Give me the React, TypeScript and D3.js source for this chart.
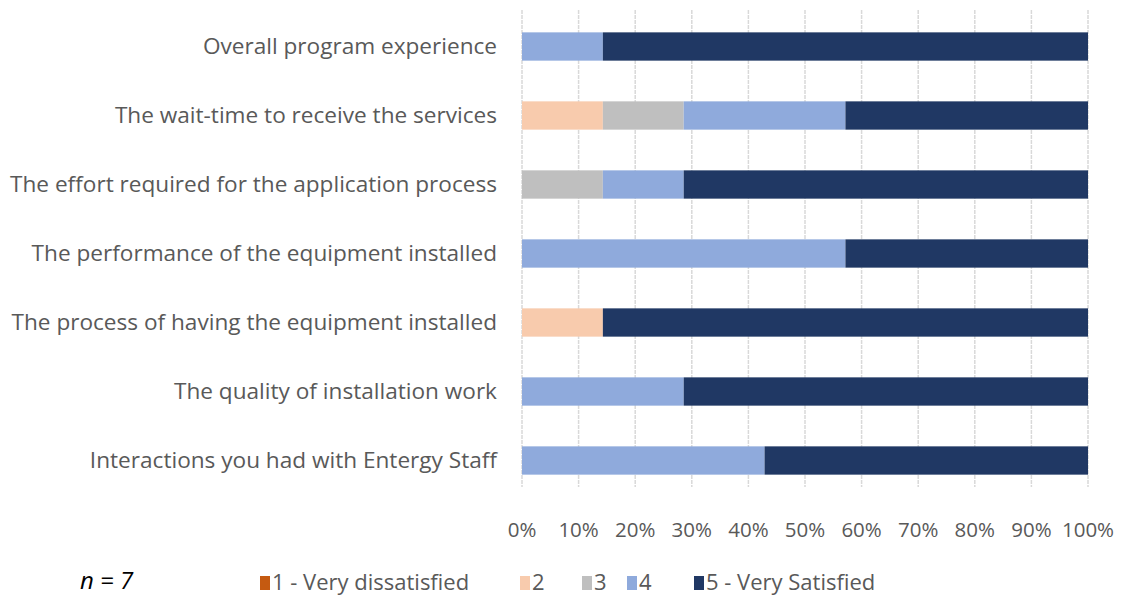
import * as d3 from 'd3';

const categories = [
  'Overall program experience',
  'The wait-time to receive the services',
  'The effort required for the application process',
  'The performance of the equipment installed',
  'The process of having the equipment installed',
  'The quality of installation work',
  'Interactions you had with Entergy Staff',
];

const seriesNames = ['1 - Very dissatisfied', '2', '3', '4', '5 - Very Satisfied'];
const seriesColors = ['#c55a11', '#f8cbad', '#bfbfbf', '#8faadc', '#203864'];

// counts out of n = 7 respondents, per category
const s1 = [0, 0, 0, 0, 0, 0, 0];
const s2 = [0, 1, 0, 0, 1, 0, 0];
const s3 = [0, 1, 1, 0, 0, 0, 0];
const s4 = [1, 2, 1, 4, 0, 2, 3];
const s5 = [6, 3, 5, 3, 6, 5, 4];
const respondents = 7;

const xTicks = [0, 0.1, 0.2, 0.3, 0.4, 0.5, 0.6, 0.7, 0.8, 0.9, 1];

const W = 1123;
const H = 597;
const margin = { left: 522, right: 35, top: 12, bottom: 102 };
const font = 'Open Sans, sans-serif';

export default function App() {
  const rows = categories.map((c, i) => ({
    cat: c,
    v: [s1[i], s2[i], s3[i], s4[i], s5[i]].map((d) => d / respondents),
  }));

  const x = d3.scaleLinear().domain([0, 1]).range([margin.left, W - margin.right]);
  const y = d3
    .scaleBand()
    .domain(categories)
    .range([margin.top, H - margin.bottom])
    .paddingInner(0.59)
    .paddingOuter(0.295);

  const stack = d3
    .stack<any>()
    .keys(seriesNames.map((_, i) => String(i)))
    .value((d, k) => d.v[+k]);
  const layers = stack(rows);

  const legendX = [260, 520, 582, 627, 694];

  return (
    <svg width={W} height={H} style={{ position: 'absolute', left: 0, top: 0, fontFamily: font }}>
      <rect width={W} height={H} fill="#fff" />
      {xTicks.map((t) => (
        <line
          key={t}
          x1={x(t)}
          x2={x(t)}
          y1={margin.top - 2}
          y2={H - margin.bottom - 8}
          stroke="#d9d9d9"
          strokeWidth={1.5}
          strokeDasharray="4,1"
        />
      ))}
      {layers.map((layer, li) => (
        <g key={li} fill={seriesColors[li]}>
          {layer.map((d, i) => (
            <rect
              key={i}
              x={x(d[0])}
              width={x(d[1]) - x(d[0])}
              y={y(rows[i].cat)}
              height={y.bandwidth()}
            />
          ))}
        </g>
      ))}
      {categories.map((c) => (
        <text
          key={c}
          x={margin.left - 25}
          y={(y(c) ?? 0) + y.bandwidth() / 2}
          dy="0.35em"
          textAnchor="end"
          fontSize={22.6}
          fill="#595959"
        >
          {c}
        </text>
      ))}
      {xTicks.map((t) => (
        <text key={t} x={x(t)} y={530} dy="0.35em" textAnchor="middle" fontSize={20.5} fill="#595959">
          {d3.format('.0%')(t)}
        </text>
      ))}
      <text x={80} y={581} dy="0.35em" fontSize={24} fontStyle="italic" fill="#000">
        n = 7
      </text>
      {seriesNames.map((s, i) => (
        <g key={s} transform={`translate(${legendX[i]},582)`}>
          <rect x={0} y={-6} width={10} height={14} fill={seriesColors[i]} />
          <text x={12} y={0} dy="0.35em" fontSize={22} fill="#595959">
            {s}
          </text>
        </g>
      ))}
    </svg>
  );
}
